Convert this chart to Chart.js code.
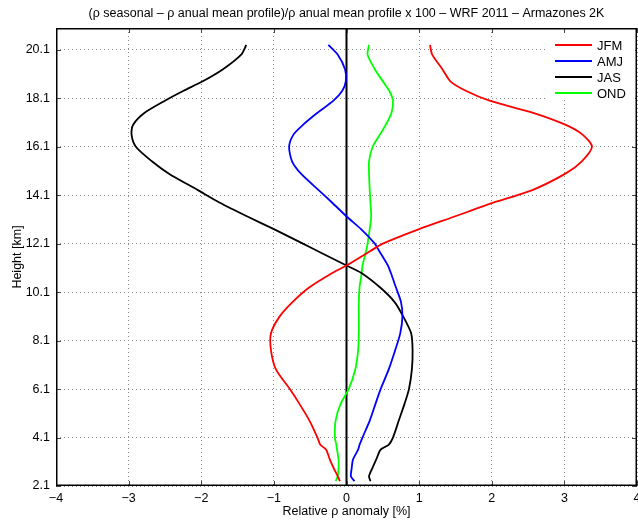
<!DOCTYPE html>
<html><head><meta charset="utf-8">
<script src="https://cdn.jsdelivr.net/npm/chart.js@4/dist/chart.umd.min.js"></script>
<style>html,body{margin:0;padding:0;background:#fff}#wrap{width:638px;height:523px}</style>
</head><body><div id="wrap"><canvas id="c" width="638" height="523"></canvas></div>
<script>
// Heights [km]
const heights = [2.3,2.5,2.8,3.2,3.6,3.8,4.1,4.8,5.5,6.1,6.9,7.7,8.4,9.1,9.7,10.3,10.9,11.2,11.8,12.1,12.7,13.2,13.8,14.3,15.0,15.5,16.1,16.6,17.0,17.5,18.0,18.4,18.8,19.3,19.9,20.3];
// Relative density anomaly [%] per season
const jfm = [-0.09,-0.12,-0.17,-0.23,-0.28,-0.36,-0.40,-0.51,-0.65,-0.78,-0.97,-1.04,-1.04,-0.92,-0.74,-0.51,-0.19,0.0,0.33,0.5,1.0,1.47,2.03,2.55,3.02,3.24,3.38,3.25,3.02,2.57,1.97,1.65,1.43,1.32,1.18,1.15];
const amj = [0.11,0.06,0.07,0.09,0.16,0.18,0.22,0.32,0.40,0.47,0.58,0.67,0.74,0.77,0.75,0.68,0.61,0.57,0.45,0.39,0.20,0.01,-0.20,-0.38,-0.63,-0.75,-0.79,-0.73,-0.60,-0.40,-0.18,-0.06,-0.01,-0.02,-0.12,-0.25];
const jas = [0.33,0.31,0.35,0.41,0.47,0.58,0.64,0.72,0.80,0.86,0.90,0.91,0.89,0.78,0.66,0.46,0.20,0.0,-0.40,-0.60,-1.00,-1.35,-1.75,-2.04,-2.45,-2.68,-2.90,-2.96,-2.94,-2.78,-2.50,-2.25,-1.98,-1.70,-1.45,-1.38];
const ond = [-0.15,-0.12,-0.11,-0.11,-0.13,-0.14,-0.16,-0.15,-0.08,0.03,0.12,0.16,0.17,0.17,0.17,0.18,0.21,0.22,0.27,0.29,0.32,0.34,0.33,0.32,0.31,0.31,0.36,0.46,0.54,0.62,0.64,0.59,0.50,0.39,0.29,0.31];
const seriesNames = ['JFM','AMJ','JAS','OND'];
const seriesColors = ['#ff0000','#0000ff','#000000','#00ff00'];
const xTicks = [-4,-3,-2,-1,0,1,2,3,4];
const yTicks = [2.1,4.1,6.1,8.1,10.1,12.1,14.1,16.1,18.1,20.1];
const xRange = [-4,4];
const yRange = [2.1,21];

const FONT = 'Liberation Sans, Arial, Helvetica, sans-serif';
const toPts = vals => heights.map((h,i)=>({x:vals[i], y:h}));
const series = [jfm,amj,jas,ond];
const datasets = series.map((v,i)=>({
  label: seriesNames[i], data: toPts(v), borderColor: seriesColors[i],
  borderWidth: 1.8, pointRadius: 0, showLine: true, tension: 0.25, fill:false
}));
datasets.push({label:'_zero', data:[{x:0,y:yRange[0]},{x:0,y:yRange[1]}], borderColor:'#000', borderWidth:2, pointRadius:0, showLine:true});

const fmtMinus = v => String(v).replace('-', '\u2212');

const deco = {
  id:'deco',
  afterDatasetsDraw(chart){
    const {ctx, chartArea:a, scales:{x,y}} = chart;
    ctx.save();
    const ln=(x1,y1,x2,y2)=>{ctx.beginPath();ctx.moveTo(x1,y1);ctx.lineTo(x2,y2);ctx.stroke();};
    ctx.strokeStyle='#444'; ctx.lineWidth=1;
    x.ticks.forEach(t=>{const p=Math.round(x.getPixelForValue(t.value))+0.5; ln(p,a.bottom,p,a.bottom-5); ln(p,a.top,p,a.top+5);});
    y.ticks.forEach(t=>{const p=Math.round(y.getPixelForValue(t.value))+0.5; ln(a.left,p,a.left+5,p); ln(a.right,p,a.right-5,p);});
    // legend
    ctx.fillStyle='#fff';
    ctx.fillRect(a.right-89, a.top+8, 87, 63);
    ctx.font = '13px '+FONT; ctx.textBaseline='middle'; ctx.textAlign='left';
    seriesNames.forEach((n,i)=>{
      const yy = a.top+17+16*i;
      ctx.strokeStyle=seriesColors[i]; ctx.lineWidth=2;
      ln(a.right-82, yy, a.right-45, yy);
      ctx.fillStyle='#000'; ctx.fillText(n, a.right-40, yy+1);
    });
    // frame
    ctx.strokeStyle='#000'; ctx.lineWidth=1.5;
    ctx.strokeRect(a.left+0.75, a.top+0.75, a.right-a.left-1.5, a.bottom-a.top-1.5);
    ctx.restore();
  }
};

new Chart(document.getElementById('c'), {
  type:'scatter',
  data:{datasets},
  plugins:[deco],
  options:{
    responsive:false, animation:false, devicePixelRatio:1,
    layout:{padding:{left:0,right:1,top:0,bottom:0}},
    plugins:{
      legend:{display:false}, tooltip:{enabled:false},
      title:{display:true, fullSize:false, text:'(\u03c1 seasonal \u2013 \u03c1 anual mean profile)/\u03c1 anual mean profile x 100 \u2013 WRF 2011 \u2013 Armazones 2K',
        color:'#000', font:{family:FONT, size:12.5, weight:'normal'}, padding:{top:6,bottom:7}}
    },
    scales:{
      x:{type:'linear', min:xRange[0], max:xRange[1],
        afterBuildTicks:s=>{s.ticks=xTicks.map(v=>({value:v}));},
        afterFit:s=>{s.height=37; s.paddingLeft=0; s.paddingRight=0;},
        ticks:{color:'#000', font:{family:FONT,size:12.5}, padding:5, callback:v=>fmtMinus(v), maxRotation:0, autoSkip:false},
        grid:{color:'#888', drawTicks:false, lineWidth:1},
        border:{display:false, dash:[1,3]},
        title:{display:true, text:'Relative \u03c1 anomaly [%]', color:'#000', font:{family:FONT,size:12.5}, padding:{top:0,bottom:4}}
      },
      y:{type:'linear', min:yRange[0], max:yRange[1],
        afterBuildTicks:s=>{s.ticks=yTicks.map(v=>({value:v}));},
        afterFit:s=>{s.width=56; s.paddingTop=0; s.paddingBottom=0;},
        ticks:{color:'#000', font:{family:FONT,size:12.5}, padding:6, callback:v=>v.toFixed(1), autoSkip:false},
        grid:{color:'#888', drawTicks:false, lineWidth:1},
        border:{display:false, dash:[1,3]},
        title:{display:true, text:'Height [km]', color:'#000', font:{family:FONT,size:12.5}, padding:{top:10,bottom:0}}
      }
    }
  }
});
</script></body></html>
